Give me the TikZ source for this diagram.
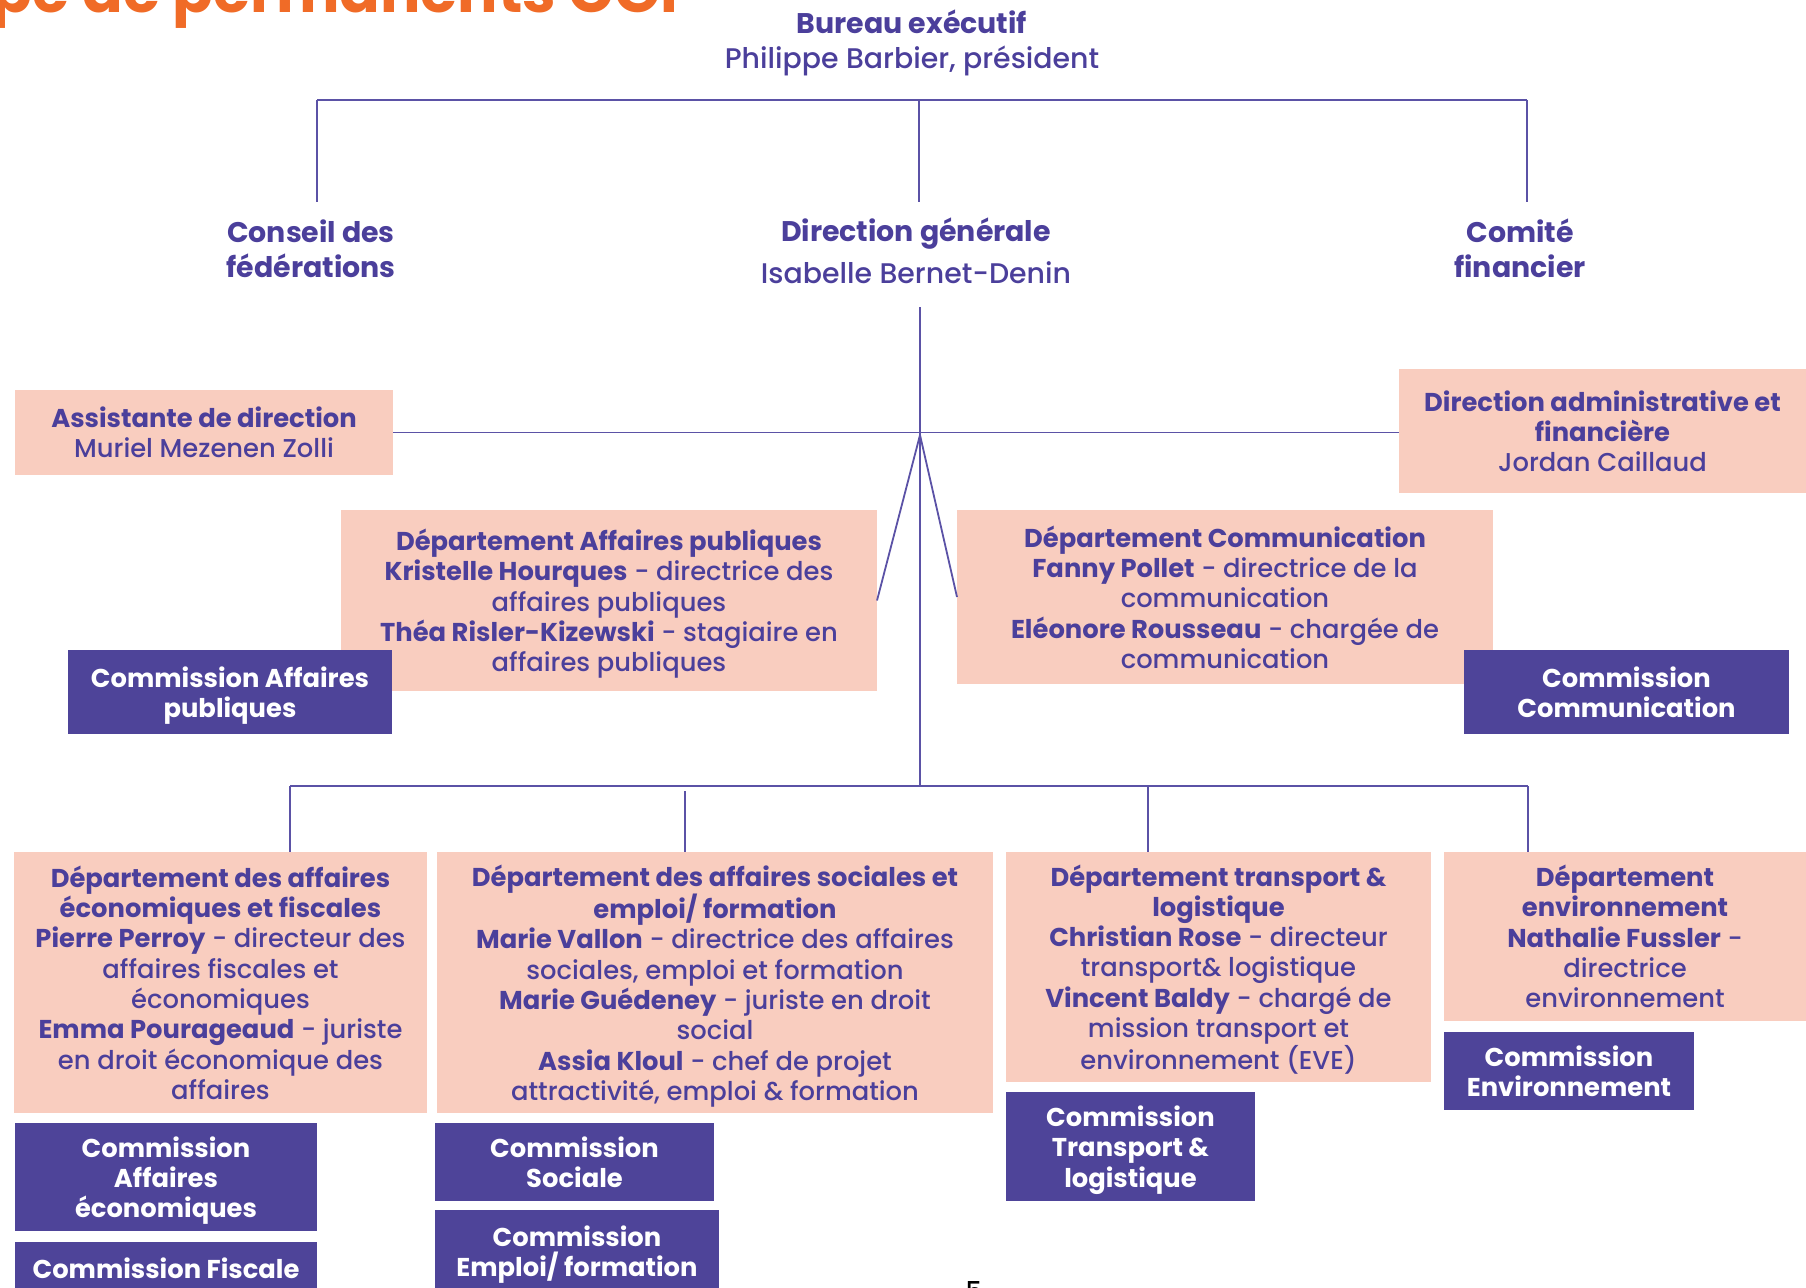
\documentclass[tikz,border=0pt]{standalone}
\usepackage{fontspec}
\setmainfont{Poppins}[UprightFont={* Medium}, BoldFont={* Bold}]
\definecolor{purp}{HTML}{4B3F9B}
\definecolor{combox}{HTML}{4E4499}
\definecolor{pinkfill}{HTML}{F9CDBF}
\definecolor{orng}{HTML}{F06B27}
\definecolor{linec}{HTML}{5B52A6}
\begin{document}
\begin{tikzpicture}[x=1pt,y=-1pt,
  every node/.style={inner sep=0pt, outer sep=0pt},
  conn/.style={draw=linec, line width=1.8pt},
  pbox/.style={fill=pinkfill, text=purp, align=center, text depth=0pt, font=\fontsize{25.8}{30.3}\selectfont},
  cbox/.style={fill=combox, text=white, align=center, text depth=0pt, font=\fontsize{25.8}{30.3}\selectfont\bfseries},
  lbl/.style={text=purp, align=center, font=\fontsize{28.4}{35}\selectfont},
  lblb/.style={text=purp, align=center, font=\fontsize{28.4}{35}\selectfont\bfseries},
]
\useasboundingbox (0,0) rectangle (1806,1287);

% title (cut at top)
\node[anchor=base east, text=orng, font=\fontsize{60}{60}\selectfont\bfseries] (title) at (678,13) {pe de permanents CGI};

% top labels
\node[lbl] (bureau) at (912,43) {\textbf{Bureau exécutif}\\Philippe Barbier, président};
\node[lblb] (conseil) at (311,248.5) {Conseil des\\fédérations};
\node[lbl] (dirgen) at (916,251) {\textbf{Direction générale}\\[7pt]Isabelle Bernet-Denin};
\node[lblb] (comite) at (1520,248.5) {Comité\\financier};

% coordinates
\coordinate (tl) at (317,100);
\coordinate (tc) at (919,100);
\coordinate (tr) at (1527,100);
\coordinate (tle) at (317,202);
\coordinate (tce) at (919,202);
\coordinate (tre) at (1527,202);
\coordinate (dgs) at (920,307);
\coordinate (hub) at (920,435);
\coordinate (bj) at (920,786);
\coordinate (bl) at (290,786);
\coordinate (br) at (1528,786);
\coordinate (b2) at (685,791);
\coordinate (b3) at (1148,786);

% boxes
\node[pbox, minimum width=378, minimum height=85] (assist) at (204,432.5)
  {\textbf{Assistante de direction}\\Muriel Mezenen Zolli};
\node[pbox, minimum width=407, minimum height=124] (diradm) at (1602.5,431)
  {\textbf{Direction administrative et}\\\textbf{financière}\\Jordan Caillaud};
\node[pbox, minimum width=536, minimum height=181] (ap) at (609,600.5)
  {\textbf{Département Affaires publiques}\\\textbf{Kristelle Hourques} - directrice des\\affaires publiques\\\textbf{Théa Risler-Kizewski} - stagiaire en\\affaires publiques};
\node[cbox, minimum width=324, minimum height=84] (comap) at (230,692)
  {Commission Affaires\\publiques};
\node[pbox, minimum width=536, minimum height=174] (com) at (1225,597)
  {\textbf{Département Communication}\\\textbf{Fanny Pollet} - directrice de la\\communication\\\textbf{Eléonore Rousseau} - chargée de\\communication};
\node[cbox, minimum width=325, minimum height=84] (comcom) at (1626.5,692)
  {Commission\\Communication};

\node[pbox, minimum width=413, minimum height=261] (d1) at (220.5,982.5)
  {\textbf{Département des affaires}\\\textbf{économiques et fiscales}\\\textbf{Pierre Perroy} - directeur des\\affaires fiscales et\\économiques\\\textbf{Emma Pourageaud} - juriste\\en droit économique des\\affaires};
\node[pbox, minimum width=556, minimum height=261] (d2) at (715,982.5)
  {\textbf{Département des affaires sociales et}\\\textbf{emploi/ formation}\\\textbf{Marie Vallon} - directrice des affaires\\sociales, emploi et formation\\\textbf{Marie Guédeney} - juriste en droit\\social\\\textbf{Assia Kloul} - chef de projet\\attractivité, emploi \& formation};
\node[pbox, minimum width=425, minimum height=230] (d3) at (1218.5,967)
  {\textbf{Département transport \&}\\\textbf{logistique}\\\textbf{Christian Rose} - directeur\\transport\& logistique\\\textbf{Vincent Baldy} - chargé de\\mission transport et\\environnement (EVE)};
\node[pbox, minimum width=362, minimum height=169] (d4) at (1625,936.5)
  {\textbf{Département}\\\textbf{environnement}\\\textbf{Nathalie Fussler} -\\directrice\\environnement};

\node[cbox, minimum width=302, minimum height=108] (cae) at (166,1177)
  {Commission\\Affaires\\économiques};
\node[cbox, minimum width=302, minimum height=53] (cf) at (166,1268.5)
  {Commission Fiscale};
\node[cbox, minimum width=279, minimum height=78] (cs) at (574.5,1162)
  {Commission\\Sociale};
\node[cbox, minimum width=284, minimum height=82] (ce) at (577,1251)
  {Commission\\Emploi/ formation};
\node[cbox, minimum width=249, minimum height=109] (ct) at (1130.5,1146.5)
  {Commission\\Transport \&\\logistique};
\node[cbox, minimum width=250, minimum height=78] (cenv) at (1569,1071)
  {Commission\\Environnement};

% page number
\node[anchor=north, font=\fontsize{26}{26}\selectfont] (pg) at (974,1281) {5};

% connectors
\draw[conn] (tl) -- (tr);
\draw[conn] (tl) -- (tle);
\draw[conn] (tc) -- (tce);
\draw[conn] (tr) -- (tre);
\draw[conn] (dgs) -- (bj);
\draw[conn] (assist.east) -- (diradm.west |- assist.east);
\draw[conn] (hub) -- (ap.east);
\draw[conn] (hub) -- (com.west);
\draw[conn] (bl) -- (br);
\draw[conn] (bl) -- (bl |- d1.north);
\draw[conn] (b2) -- (b2 |- d2.north);
\draw[conn] (b3) -- (b3 |- d3.north);
\draw[conn] (br) -- (br |- d4.north);
\end{tikzpicture}
\end{document}
